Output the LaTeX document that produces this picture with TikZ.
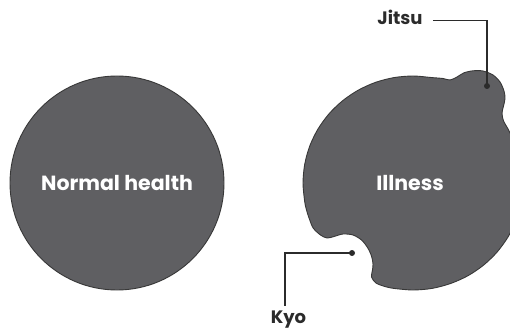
\documentclass[tikz,border=0pt]{standalone}
\usepackage{fontspec}
\setmainfont{Poppins}
\definecolor{blob}{HTML}{5F5F62}
\definecolor{edge}{HTML}{383838}
\definecolor{ink}{HTML}{2B2B2B}
\begin{document}
\begin{tikzpicture}[x=1pt,y=-1pt,
  blobtext/.style={text=white,font=\bfseries\fontsize{20.5}{22}\selectfont},
  lbl/.style={text=ink,inner sep=0pt,font=\bfseries\fontsize{18}{20}\selectfont},
  leader/.style={draw=ink,line width=1.3pt},
  dotmark/.style={circle,fill=ink,inner sep=0pt,minimum size=6pt},
  outline/.style={draw=edge,line width=0.9pt}]
\useasboundingbox (0,0) rectangle (510,331);
\clip (0,0) rectangle (510,331);
% normal health
\node[circle,fill=blob,outline,minimum size=214pt,inner sep=0pt,blobtext] (health) at (117,183) {Normal health};
% illness blob (traced outline)
\draw[outline,fill=blob] plot[smooth cycle,tension=0.5] coordinates {
  (508.3,129.5) (516.4,146.4) (521.3,164.4) (523,183) (521.3,201.6) (516.4,219.6)
  (508.3,236.5) (497.3,251.8) (483.7,265.0) (468,275.7) (450.6,283.5) (432.1,288.4)
  (413,290) (393.9,288.4) (384.5,286.4) (376,283) (371.5,277) (372.5,270) (373,264)
  (371.5,256) (367.5,247.5) (361.5,240) (353,235) (343,234) (334,236.5) (327,238)
  (320.5,235) (313.3,228.2) (309.6,219.6) (306.7,210.7) (304.7,201.6) (303,183)
  (304.7,164.4) (309.6,146.4) (317.7,129.5) (328.7,114.2) (342.3,101.0) (358,90.3)
  (375.4,82.4) (393.9,77.6) (413,76) (432.1,77.6) (443,78.5) (450,80) (457,77)
  (464,72.8) (473,70.8) (483,71) (493,75) (500,82) (504,91) (505,98.5) (503.5,106)
  (502,113) (503.5,121)};
\node[blobtext] (ill) at (410,183) {Illness};
% labels
\node[lbl] (jitsu) at (400,17.5) {Jitsu};
\node[lbl] (kyo) at (288.5,320) {Kyo};
\node[dotmark] (jdot) at (487,86) {};
\node[dotmark] (kdot) at (352,253) {};
\draw[leader] ([shift={(10,3)}]jitsu.east) -| (jdot.center);
\draw[leader] (kdot.center) -| ([shift={(-3.5,-5)}]kyo.north);
\end{tikzpicture}
\end{document}
